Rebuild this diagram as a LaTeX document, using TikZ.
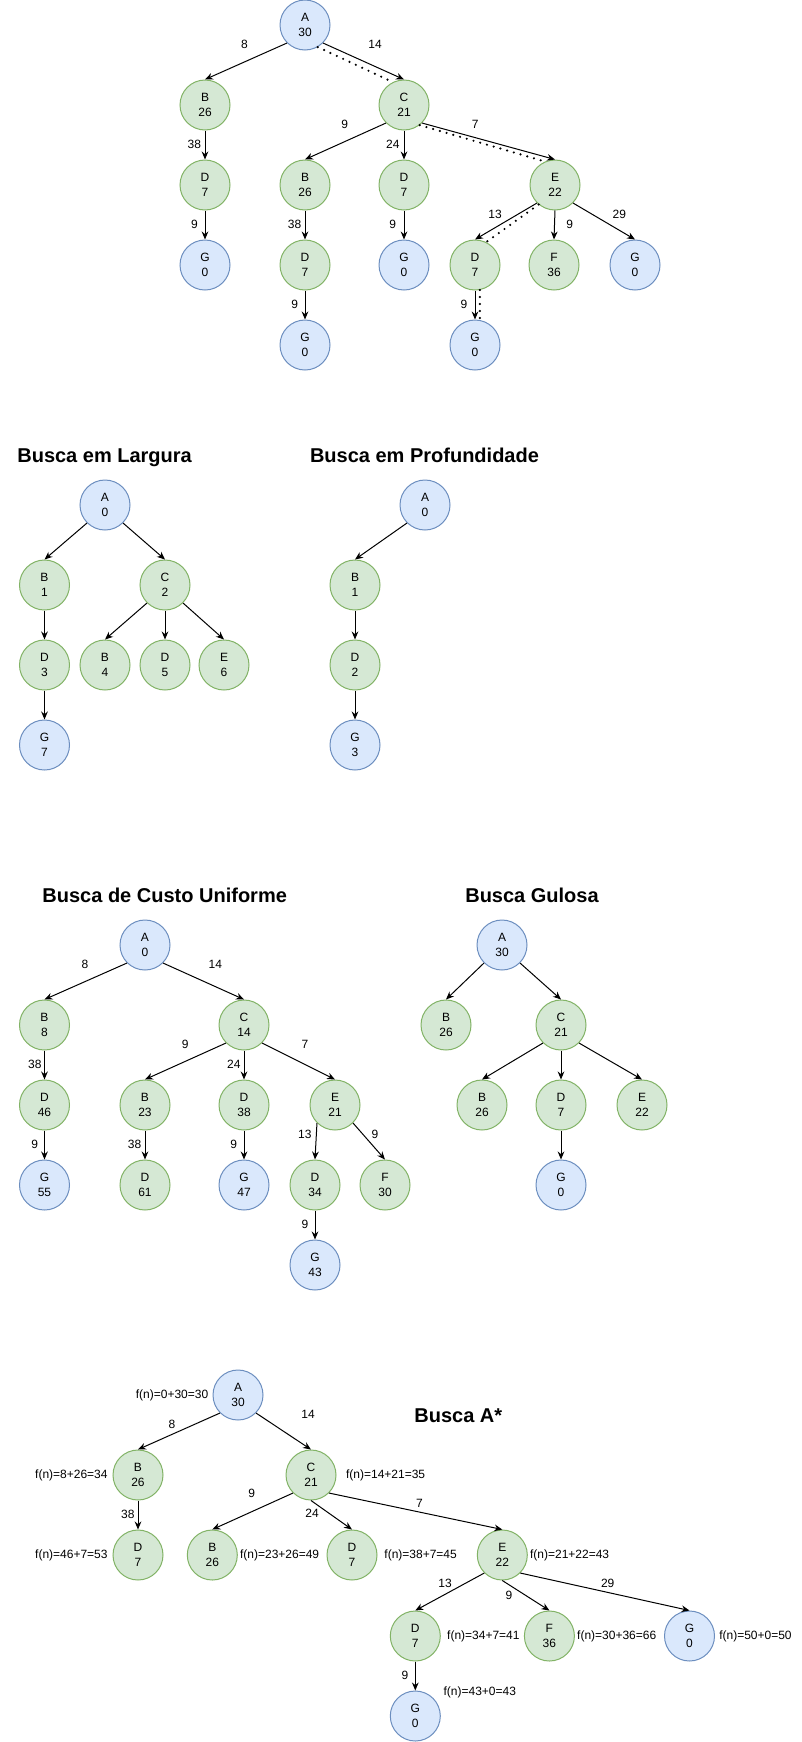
\documentclass[tikz,border=0pt]{standalone}
\usepackage{fontspec}
\setmainfont{Liberation Sans}
\usetikzlibrary{arrows.meta}
\definecolor{bfill}{HTML}{DAE8FC}
\definecolor{bline}{HTML}{6C8EBF}
\definecolor{gfill}{HTML}{D5E8D4}
\definecolor{gline}{HTML}{82B366}

\begin{document}
\begin{tikzpicture}[x=0.75pt,y=-0.75pt,
vtx/.style={circle,minimum size=37.5pt,inner sep=0pt,line width=0.75pt,align=center,
    font=\fontsize{9}{11.6}\selectfont},
bnode/.style={vtx,draw=bline,fill=bfill},
gnode/.style={vtx,draw=gline,fill=gfill},
arr/.style={line width=0.75pt,-{Stealth[length=6pt,width=5pt]}},
trail/.style={line width=1.8pt,dash pattern=on 0pt off 5.25pt,line cap=round},
cost/.style={inner sep=0pt,font=\fontsize{9}{11}\selectfont},
title/.style={inner sep=0pt,anchor=base,font=\fontsize{15}{17}\selectfont\bfseries},
every label/.style={inner sep=0pt,font=\fontsize{9}{11}\selectfont},
label distance=3pt]
\useasboundingbox (0,0) rectangle (802,1742);

% arvore completa
\node (ta) [bnode] at (305,25) {A\\30};
\node (tb) [gnode] at (205,105) {B\\26};
\node (tc) [gnode] at (404,105) {C\\21};
\node (td1) [gnode] at (205,185) {D\\7};
\node (tb2) [gnode] at (305,185) {B\\26};
\node (td2) [gnode] at (404,185) {D\\7};
\node (te) [gnode] at (555,185) {E\\22};
\node (tg1) [bnode] at (205,265) {G\\0};
\node (td3) [gnode] at (305,265) {D\\7};
\node (tg2) [bnode] at (404,265) {G\\0};
\node (td4) [gnode] at (475,265) {D\\7};
\node (tf) [gnode] at (554,265) {F\\36};
\node (tg3) [bnode] at (635,265) {G\\0};
\node (tg4) [bnode] at (305,345) {G\\0};
\node (tg5) [bnode] at (475,345) {G\\0};

\draw[arr] (ta.south west) -- (tb.north);
\draw[arr] (ta.south east) -- (tc.north);
\draw[arr] (tb.south) -- (td1.north);
\draw[arr] (td1.south) -- (tg1.north);
\draw[arr] (tc.south west) -- (tb2.north);
\draw[arr] (tc.south) -- (td2.north);
\draw[arr] (tc.south east) -- (te.north);
\draw[arr] (tb2.south) -- (td3.north);
\draw[arr] (td3.south) -- (tg4.north);
\draw[arr] (td2.south) -- (tg2.north);
\draw[arr] (te.south west) -- (td4.north);
\draw[arr] (te.south) -- (tf.north);
\draw[arr] (te.south east) -- (tg3.north);
\draw[arr] (td4.south) -- (tg5.north);

\draw[trail] (ta.-60) -- (tc.116);
\draw[trail] (tc.-52) -- (te.113);
\draw[trail] (te.-130) -- (td4.64);
\draw[trail] (td4.-79) -- (tg5.79);

\node (tw1) [cost] at (244.5,44) {8};
\node (tw2) [cost] at (375,44) {14};
\node (tw3) [cost] at (194.4,144) {38};
\node (tw4) [cost] at (344.8,124) {9};
\node (tw5) [cost] at (392.8,144) {24};
\node (tw6) [cost] at (475.2,124) {7};
\node (tw7) [cost] at (194.4,224) {9};
\node (tw8) [cost] at (294.6,224) {38};
\node (tw9) [cost] at (392.8,224) {9};
\node (tw10) [cost] at (495,214) {13};
\node (tw11) [cost] at (569.8,224) {9};
\node (tw12) [cost] at (619.4,214) {29};
\node (tw13) [cost] at (294.6,304) {9};
\node (tw14) [cost] at (464,304) {9};

% largura
\node (lt) [title] at (104.6,462.7) {Busca em Largura};
\node (la) [bnode] at (105,505) {A\\0};
\node (lb) [gnode] at (44.5,585) {B\\1};
\node (lc) [gnode] at (165,585) {C\\2};
\node (ld) [gnode] at (44.5,665) {D\\3};
\node (lb2) [gnode] at (105,665) {B\\4};
\node (ld2) [gnode] at (165,665) {D\\5};
\node (le) [gnode] at (224,665) {E\\6};
\node (lg) [bnode] at (44.5,745) {G\\7};

\draw[arr] (la.south west) -- (lb.north);
\draw[arr] (la.south east) -- (lc.north);
\draw[arr] (lb.south) -- (ld.north);
\draw[arr] (ld.south) -- (lg.north);
\draw[arr] (lc.south west) -- (lb2.north);
\draw[arr] (lc.south) -- (ld2.north);
\draw[arr] (lc.south east) -- (le.north);

% profundidade
\node (pt) [title] at (424.5,462.7) {Busca em Profundidade};
\node (pa) [bnode] at (425,505) {A\\0};
\node (pb) [gnode] at (355,585) {B\\1};
\node (pd) [gnode] at (355,665) {D\\2};
\node (pg) [bnode] at (355,745) {G\\3};

\draw[arr] (pa.south west) -- (pb.north);
\draw[arr] (pb.south) -- (pd.north);
\draw[arr] (pd.south) -- (pg.north);

% custo uniforme
\node (ut) [title] at (164.7,902.7) {Busca de Custo Uniforme};
\node (ua) [bnode] at (145,945) {A\\0};
\node (ub) [gnode] at (44.5,1025) {B\\8};
\node (uc) [gnode] at (244,1025) {C\\14};
\node (ud) [gnode] at (44.5,1105) {D\\46};
\node (ub2) [gnode] at (145,1105) {B\\23};
\node (ud2) [gnode] at (244,1105) {D\\38};
\node (ue) [gnode] at (335,1105) {E\\21};
\node (ug) [bnode] at (44.5,1185) {G\\55};
\node (ud3) [gnode] at (145,1185) {D\\61};
\node (ug2) [bnode] at (244,1185) {G\\47};
\node (ud4) [gnode] at (315,1185) {D\\34};
\node (uf) [gnode] at (385,1185) {F\\30};
\node (ug3) [bnode] at (315,1265) {G\\43};

\draw[arr] (ua.south west) -- (ub.north);
\draw[arr] (ua.south east) -- (uc.north);
\draw[arr] (ub.south) -- (ud.north);
\draw[arr] (ud.south) -- (ug.north);
\draw[arr] (uc.south west) -- (ub2.north);
\draw[arr] (uc.south) -- (ud2.north);
\draw[arr] (uc.south east) -- (ue.north);
\draw[arr] (ub2.south) -- (ud3.north);
\draw[arr] (ud2.south) -- (ug2.north);
\draw[arr] (ue.south west) -- (ud4.north);
\draw[arr] (ue.south east) -- (uf.north);
\draw[arr] (ud4.south) -- (ug3.north);

\node (uw1) [cost] at (85,964) {8};
\node (uw2) [cost] at (215.3,964) {14};
\node (uw3) [cost] at (34.8,1064) {38};
\node (uw4) [cost] at (185.2,1044) {9};
\node (uw5) [cost] at (233.8,1064) {24};
\node (uw6) [cost] at (304.9,1044) {7};
\node (uw7) [cost] at (34.8,1144) {9};
\node (uw8) [cost] at (134.5,1144) {38};
\node (uw9) [cost] at (233.8,1144) {9};
\node (uw10) [cost] at (304.9,1134) {13};
\node (uw11) [cost] at (375,1134) {9};
\node (uw12) [cost] at (304.9,1224) {9};

% gulosa
\node (gt) [title] at (532,902.7) {Busca Gulosa};
\node (ga) [bnode] at (502,945) {A\\30};
\node (gb) [gnode] at (446,1025) {B\\26};
\node (gc) [gnode] at (561,1025) {C\\21};
\node (gb2) [gnode] at (482,1105) {B\\26};
\node (gd) [gnode] at (561,1105) {D\\7};
\node (ge) [gnode] at (642,1105) {E\\22};
\node (gg) [bnode] at (561,1185) {G\\0};

\draw[arr] (ga.south west) -- (gb.north);
\draw[arr] (ga.south east) -- (gc.north);
\draw[arr] (gc.south west) -- (gb2.north);
\draw[arr] (gc.south) -- (gd.north);
\draw[arr] (gc.south east) -- (ge.north);
\draw[arr] (gd.south) -- (gg.north);

% A*
\node (st) [title] at (458.3,1422.3) {Busca A*};
\node (sa) [bnode,label={left:f(n)=0+30=30}] at (238,1395) {A\\30};
\node (sb) [gnode,label={[label distance=3.5pt]left:f(n)=8+26=34}] at (138,1475) {B\\26};
\node (sc) [gnode,label={[label distance=7pt]right:f(n)=14+21=35}] at (311,1475) {C\\21};
\node (sd) [gnode,label={[label distance=3.5pt]left:f(n)=46+7=53}] at (138,1555) {D\\7};
\node (sb2) [gnode,label={[label distance=1.5pt]right:f(n)=23+26=49}] at (212.3,1555) {B\\26};
\node (sd2) [gnode,label={[label distance=5pt]right:f(n)=38+7=45}] at (352,1555) {D\\7};
\node (se) [gnode,label={[label distance=1.5pt]right:f(n)=21+22=43}] at (502.3,1555) {E\\22};
\node (sd3) [gnode,label={[label distance=4.6pt]right:f(n)=34+7=41}] at (415.3,1636) {D\\7};
\node (sf) [gnode,label={[label distance=1.5pt]right:f(n)=30+36=66}] at (549.4,1636) {F\\36};
\node (sg) [bnode,label={right:f(n)=50+0=50}] at (689.5,1636) {G\\0};
\node (sg2) [bnode,label={[label distance=0pt,xshift=7.5pt]above right:f(n)=43+0=43}] at (415.3,1716) {G\\0};

\draw[arr] (sa.south west) -- (sb.north);
\draw[arr] (sa.south east) -- (sc.north);
\draw[arr] (sb.south) -- (sd.north);
\draw[arr] (sc.south west) -- (sb2.north);
\draw[arr] (sc.south) -- (sd2.north);
\draw[arr] (sc.south east) -- (se.north);
\draw[arr] (se.south west) -- (sd3.north);
\draw[arr] (se.south) -- (sf.north);
\draw[arr] (se.south east) -- (sg.north);
\draw[arr] (sd3.south) -- (sg2.north);

\node (sw1) [cost] at (171.9,1424) {8};
\node (sw2) [cost] at (308,1414) {14};
\node (sw3) [cost] at (127.9,1514) {38};
\node (sw4) [cost] at (251.7,1493) {9};
\node (sw5) [cost] at (312,1513) {24};
\node (sw6) [cost] at (419.4,1503) {7};
\node (sw7) [cost] at (445,1583) {13};
\node (sw8) [cost] at (509,1595) {9};
\node (sw9) [cost] at (607.7,1583) {29};
\node (sw10) [cost] at (405,1675) {9};
\end{tikzpicture}
\end{document}
